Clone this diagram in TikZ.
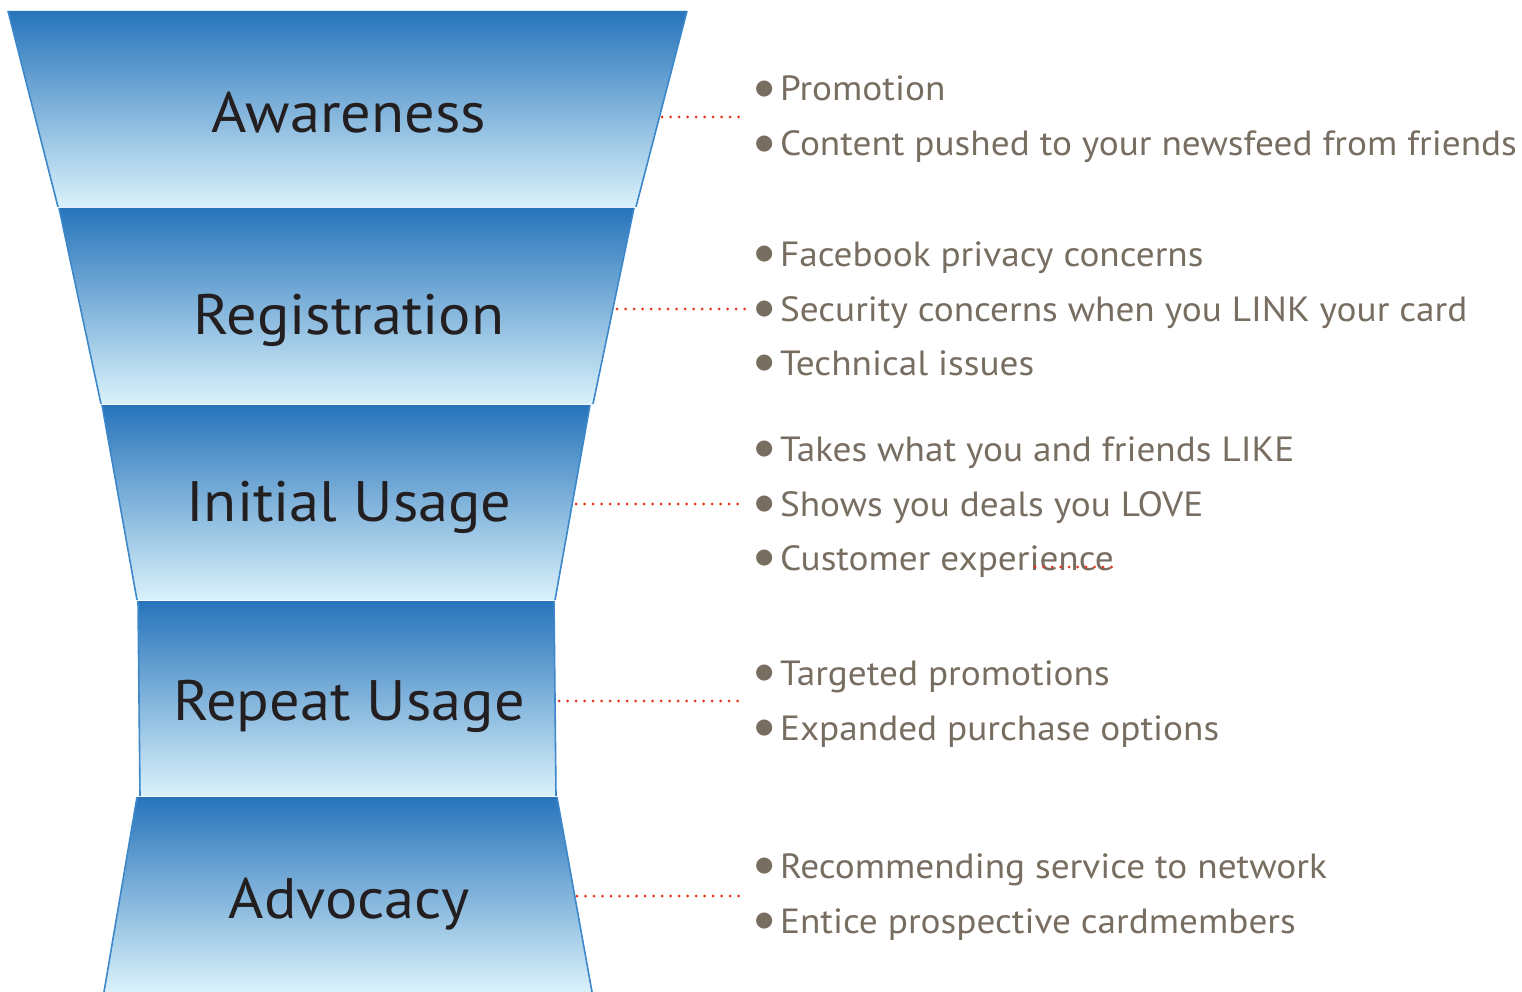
\documentclass[tikz,border=0pt]{standalone}
\usepackage{fontspec}
\newfontfamily\stagefont[FakeStretch=1.06]{PT Sans}
\newfontfamily\itemfont[FakeStretch=1.065]{PT Sans}
\newfontfamily\symfont{DejaVu Sans}
\definecolor{funneltop}{HTML}{2774BB}
\definecolor{funnelmid}{HTML}{6CA8D7}
\definecolor{funnelbot}{HTML}{DAF2FB}
\definecolor{funneledge}{HTML}{3C88CA}
\definecolor{stageink}{HTML}{231F20}
\definecolor{itemink}{HTML}{776D60}
\definecolor{leader}{HTML}{E8311F}
\newcommand\bul{\raisebox{6.5pt}{\symfont\fontsize{21}{21}\selectfont ●}\hspace{6.5pt}}
\begin{document}
\begin{tikzpicture}[x=1pt,y=-1pt,
  stageshade/.style={top color=funneltop, middle color=funnelmid, bottom color=funnelbot, shading angle=0},
  sideedge/.style={draw=funneledge, line width=1.6pt},
  stagelabel/.style={font=\stagefont\fontsize{57}{60}\selectfont, text=stageink, inner sep=0pt, anchor=base},
  itemtext/.style={font=\itemfont\fontsize{35}{40}\selectfont, text=itemink, inner sep=0pt, anchor=base west},
  leaderline/.style={draw=leader, line width=3pt, line cap=round, dash pattern=on 0pt off 8.5pt}]
\useasboundingbox (0,0) rectangle (1522,992);

% funnel segments, top to bottom
\shade[stageshade] (8,11) -- (687,11) -- (636,207) -- (58,207) -- cycle;
\draw[sideedge] (8,11) -- (58,207) (687,11) -- (636,207);
\shade[stageshade] (59,208) -- (634,208) -- (593,404) -- (101,404) -- cycle;
\draw[sideedge] (59,208) -- (101,404) (634,208) -- (593,404);
\shade[stageshade] (102,405) -- (590,405) -- (555,600) -- (137,600) -- cycle;
\draw[sideedge] (102,405) -- (137,600) (590,405) -- (555,600);
\shade[stageshade] (138,601) -- (554,601) -- (556,796) -- (140,796) -- cycle;
\draw[sideedge] (138,601) -- (140,796) (554,601) -- (556,796);
\shade[stageshade] (137,797) -- (557,797) -- (592,992) -- (104,992) -- cycle;
\draw[sideedge] (137,797) -- (104,992) (557,797) -- (592,992);

% stage names
\node[stagelabel] (aware) at (349,133) {Awareness};
\node[stagelabel] (regist) at (349,334) {Registration};
\node[stagelabel] (initial) at (349,521) {Initial Usage};
\node[stagelabel] (repeat) at (349,720) {Repeat Usage};
\node[stagelabel] (advoc) at (349,918) {Advocacy};

% bullet lists
\node[itemtext] (a1) at (755,101) {\bul Promotion};
\node[itemtext] (a2) at (755,156) {\bul Content pushed to your newsfeed from friends};
\node[itemtext] (r1) at (755,266) {\bul Facebook privacy concerns};
\node[itemtext] (r2) at (755,321) {\bul Security concerns when you LINK your card};
\node[itemtext] (r3) at (755,375) {\bul Technical issues};
\node[itemtext] (i1) at (755,461) {\bul Takes what you and friends LIKE};
\node[itemtext] (i2) at (755,516) {\bul Shows you deals you LOVE};
\node[itemtext] (i3) at (755,570) {\bul Customer experience};
\node[itemtext] (p1) at (755,685) {\bul Targeted promotions};
\node[itemtext] (p2) at (755,740) {\bul Expanded purchase options};
\node[itemtext] (v1) at (755,878) {\bul Recommending service to network};
\node[itemtext] (v2) at (755,933) {\bul Entice prospective cardmembers};

% leader ends
\coordinate (awareR) at (662,117);
\coordinate (awareL) at (743,117);
\coordinate (registR) at (617,309);
\coordinate (registL) at (745,309);
\coordinate (initialR) at (576,504);
\coordinate (initialL) at (745,504);
\coordinate (repeatR) at (559,701);
\coordinate (repeatL) at (745,701);
\coordinate (advocR) at (577,896);
\coordinate (advocL) at (745,896);
\coordinate (markA) at (1035,567);
\coordinate (markB) at (1119,567);

\draw[leaderline] (awareR) -- (awareL);
\draw[leaderline] (registR) -- (registL);
\draw[leaderline] (initialR) -- (initialL);
\draw[leaderline] (repeatR) -- (repeatL);
\draw[leaderline] (advocR) -- (advocL);
\draw[leaderline] (markA) -- (markB);
\end{tikzpicture}
\end{document}
